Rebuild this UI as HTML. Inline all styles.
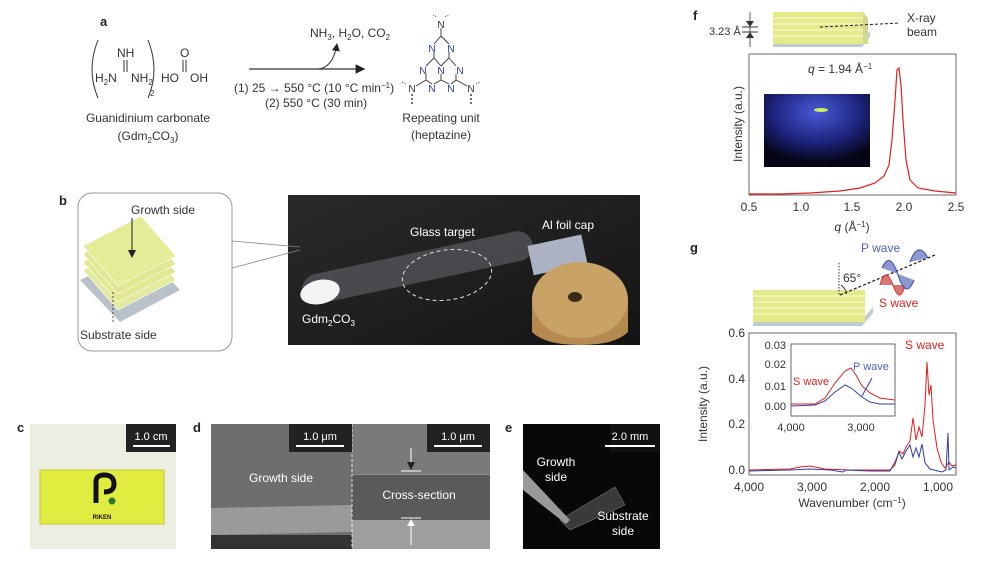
<!DOCTYPE html>
<html><head><meta charset="utf-8"><style>
body{margin:0;background:#fff;}
svg{display:block;font-family:"Liberation Sans",sans-serif;}
</style></head><body>
<svg width="990" height="570" viewBox="0 0 990 570" xmlns="http://www.w3.org/2000/svg">
<defs>
<marker id="ah" markerWidth="8" markerHeight="8" refX="7" refY="4" orient="auto"><path d="M0,0 L8,4 L0,8 z" fill="#222"/></marker>
<linearGradient id="bg" x1="0" y1="0" x2="1" y2="1"><stop offset="0" stop-color="#2a2a2a"/><stop offset="1" stop-color="#141414"/></linearGradient>
<radialGradient id="xr" cx="0.5" cy="0.25" r="0.7"><stop offset="0" stop-color="#4a5ad8"/><stop offset="0.6" stop-color="#1c237a"/><stop offset="1" stop-color="#050515"/></radialGradient>
</defs>

<!-- a -->
<text x="100" y="26" font-size="13" font-weight="bold" fill="#222">a</text>
<g font-size="12" fill="#333">
<path d="M98,40 Q86,70 98,98" fill="none" stroke="#333" stroke-width="1"/>
<path d="M148,40 Q160,70 148,98" fill="none" stroke="#333" stroke-width="1"/>
<text x="117" y="57">NH</text>
<line x1="124" y1="60" x2="124" y2="72" stroke="#333" stroke-width="1"/>
<line x1="127" y1="60" x2="127" y2="72" stroke="#333" stroke-width="1"/>
<text x="95" y="82">H<tspan font-size="8" dy="3">2</tspan><tspan dy="-3">N</tspan></text>
<text x="131" y="82">NH<tspan font-size="8" dy="3">2</tspan></text>
<text x="150" y="96" font-size="8">2</text>
<text x="161" y="82">HO</text>
<text x="190" y="82">OH</text>
<text x="180" y="57">O</text>
<line x1="183" y1="60" x2="183" y2="72" stroke="#333"/><line x1="186" y1="60" x2="186" y2="72" stroke="#333"/>
<text x="148" y="122" text-anchor="middle">Guanidinium carbonate</text>
<text x="148" y="140" text-anchor="middle">(Gdm<tspan font-size="8" dy="3">2</tspan><tspan dy="-3">CO</tspan><tspan font-size="8" dy="3">3</tspan><tspan dy="-3">)</tspan></text>
</g>
<line x1="249" y1="69" x2="364" y2="69" stroke="#333" stroke-width="1.2" marker-end="url(#ah)"/>
<path d="M318,69 Q333,68 337,44" fill="none" stroke="#333" stroke-width="1" marker-end="url(#ah)"/>
<g font-size="12" fill="#333">
<text x="310" y="37">NH<tspan font-size="8" dy="3">3</tspan><tspan dy="-3">, H</tspan><tspan font-size="8" dy="3">2</tspan><tspan dy="-3">O, CO</tspan><tspan font-size="8" dy="3">2</tspan></text>
<text x="234" y="92">(1) 25 → 550 °C (10 °C min<tspan font-size="8" dy="-4">−1</tspan><tspan dy="4">)</tspan></text>
<text x="265" y="107">(2) 550 °C (30 min)</text>
<text x="441" y="122" text-anchor="middle">Repeating unit</text>
<text x="441" y="139" text-anchor="middle">(heptazine)</text>
</g>
<g stroke="#333" stroke-width="0.9" fill="none">
<path d="M441,28 L441,36 L434,44 M441,36 L449,44 M434,52 L434,58 L426,66 M434,58 L441,66 M449,52 L449,58 L441,66 M449,58 L456,66 M426,74 L426,80 L432,84 M441,74 L441,80 L434,84 M441,80 L449,84 M456,74 L456,80 L451,84 M426,80 L416,86 M456,80 L467,86"/>
<path d="M412,94 L412,104 M471,94 L471,104" stroke-dasharray="2,2" stroke-width="1.4"/>
<path d="M433,15 L437,17 M445,17 L449,15 M402,82 L406,84 M476,84 L480,82" stroke-dasharray="1,1"/>
</g>
<g font-size="10" fill="#2a3a8a" text-anchor="middle">
<text x="441" y="28" fill="#333">N</text>
<text x="432" y="52">N</text><text x="451" y="52">N</text>
<text x="423" y="74">N</text><text x="441" y="74">N</text><text x="460" y="74">N</text>
<text x="432" y="92">N</text><text x="451" y="92">N</text>
<text x="412" y="92" fill="#333">N</text><text x="471" y="92" fill="#333">N</text>
</g>

<!-- b -->
<text x="59" y="205" font-size="13" font-weight="bold" fill="#222">b</text>
<rect x="288" y="195" width="352" height="150" fill="url(#bg)"/>
<rect x="78" y="193" width="154" height="158" rx="14" fill="#fff" stroke="#999" stroke-width="1"/>
<line x1="232" y1="241" x2="300" y2="247" stroke="#888" stroke-width="0.8"/>
<line x1="232" y1="268" x2="300" y2="250" stroke="#888" stroke-width="0.8"/>
<polygon points="80,280 142,250 180,290 120,322" fill="#b8c2c8"/>
<polygon points="83,270 141,240 176,280 118,310" fill="#e3eaa0" stroke="#fff" stroke-width="0.6"/>
<polygon points="83,262 141,232 176,272 118,302" fill="#e0e890" stroke="#fff" stroke-width="0.6"/>
<polygon points="83,254 141,224 176,264 118,294" fill="#dfe890" stroke="#fff" stroke-width="0.6"/>
<polygon points="83,246 141,216 176,256 118,286" fill="#e4ec98" stroke="#fff" stroke-width="0.6"/>
<line x1="132" y1="218" x2="132" y2="257" stroke="#222" stroke-width="1" marker-end="url(#ah)"/>
<line x1="113" y1="322" x2="113" y2="290" stroke="#222" stroke-width="0.8" stroke-dasharray="2,2"/>
<text x="131" y="214" font-size="12" fill="#333">Growth side</text>
<text x="80" y="339" font-size="12" fill="#333">Substrate side</text>
<rect x="300" y="252" width="235" height="30" rx="15" fill="#777c84" opacity="0.45" transform="rotate(-12 420 267)"/>
<ellipse cx="320" cy="292" rx="20" ry="12" fill="#f4f4f4" transform="rotate(-12 320 292)"/>
<ellipse cx="447" cy="275" rx="45" ry="25" fill="none" stroke="#ddd" stroke-dasharray="4,3" transform="rotate(-8 447 275)"/>
<rect x="530" y="240" width="55" height="30" fill="#aab2c4" transform="rotate(-12 557 255)"/>
<path d="M532,300 L532,332 Q545,345 580,345 Q615,345 628,332 L628,300 z" fill="#b48a50"/>
<ellipse cx="580" cy="300" rx="48" ry="38" fill="#c9a266"/>
<ellipse cx="575" cy="297" rx="7" ry="5" fill="#3a2a18"/>
<g font-size="12" fill="#fff">
<text x="410" y="236">Glass target</text>
<text x="542" y="229">Al foil cap</text>
<text x="302" y="323">Gdm<tspan font-size="8" dy="3">2</tspan><tspan dy="-3">CO</tspan><tspan font-size="8" dy="3">3</tspan></text>
</g>

<!-- c -->
<text x="17" y="432" font-size="13" font-weight="bold" fill="#222">c</text>
<rect x="30" y="424" width="146" height="125" fill="#eceee2"/>
<rect x="40" y="470" width="124" height="54" fill="#e0ec40" stroke="#c8c830"/>
<path d="M96,503 L96,482 Q96,475 104,475 Q114,475 114,484 Q114,492 104,492" fill="none" stroke="#111" stroke-width="5"/>
<circle cx="112" cy="501" r="3.5" fill="#2a7a30"/>
<text x="102" y="519" font-size="6" font-weight="bold" text-anchor="middle" fill="#111">RIKEN</text>
<rect x="126" y="424" width="50" height="28" fill="#222"/>
<text x="151" y="440" font-size="11" fill="#fff" text-anchor="middle">1.0 cm</text>
<line x1="133" y1="446" x2="170" y2="446" stroke="#fff" stroke-width="2"/>

<!-- d -->
<text x="193" y="432" font-size="13" font-weight="bold" fill="#222">d</text>
<rect x="211" y="424" width="141" height="125" fill="#6e6e6e"/>
<path d="M211,508 L352,505 L352,532 L211,535 z" fill="#9a9a9a"/>
<rect x="211" y="535" width="141" height="14" fill="#333"/>
<rect x="352" y="424" width="138" height="125" fill="#8c8c8c"/>
<rect x="352" y="424" width="138" height="50" fill="#7a7a7a"/>
<rect x="352" y="475" width="138" height="45" fill="#5a5a5a"/>
<rect x="352" y="520" width="138" height="29" fill="#9e9e9e"/>
<line x1="352" y1="424" x2="352" y2="549" stroke="#fff" stroke-dasharray="3,2" stroke-width="0.8"/>
<rect x="289" y="424" width="63" height="28" fill="#222"/><rect x="427" y="424" width="63" height="28" fill="#222"/>
<text x="320" y="440" font-size="11" fill="#fff" text-anchor="middle">1.0 μm</text>
<text x="458" y="440" font-size="11" fill="#fff" text-anchor="middle">1.0 μm</text>
<line x1="296" y1="446" x2="344" y2="446" stroke="#fff" stroke-width="2"/>
<line x1="434" y1="446" x2="482" y2="446" stroke="#fff" stroke-width="2"/>
<text x="281" y="482" font-size="12" fill="#fff" text-anchor="middle">Growth side</text>
<text x="419" y="499" font-size="12" fill="#fff" text-anchor="middle">Cross-section</text>
<line x1="411" y1="448" x2="411" y2="469" stroke="#fff" marker-end="url(#ah)"/>
<line x1="401" y1="471" x2="421" y2="471" stroke="#fff"/>
<line x1="411" y1="545" x2="411" y2="520" stroke="#fff"/>
<line x1="401" y1="518" x2="421" y2="518" stroke="#fff"/>
<path d="M407,526 L411,519 L415,526z" fill="#fff"/>

<!-- e -->
<text x="505" y="432" font-size="13" font-weight="bold" fill="#222">e</text>
<rect x="523" y="424" width="137" height="125" fill="#080808"/>
<polygon points="560,520 615,487 625,505 570,530" fill="#3a3a3a" stroke="#777" stroke-width="0.6"/>
<polygon points="523,470 570,520 566,524 523,490" fill="#999"/>
<rect x="610" y="424" width="50" height="28" fill="#111"/>
<text x="630" y="440" font-size="11" fill="#fff" text-anchor="middle">2.0 mm</text>
<line x1="605" y1="446" x2="655" y2="446" stroke="#fff" stroke-width="2"/>
<text x="556" y="466" font-size="12" fill="#fff" text-anchor="middle">Growth</text>
<text x="556" y="481" font-size="12" fill="#fff" text-anchor="middle">side</text>
<text x="623" y="520" font-size="12" fill="#fff" text-anchor="middle">Substrate</text>
<text x="623" y="535" font-size="12" fill="#fff" text-anchor="middle">side</text>

<!-- f -->
<text x="693" y="20" font-size="13" font-weight="bold" fill="#222">f</text>
<polygon points="773,41 860,41 870,31 870,37 862,47 773,47" fill="#c0cbd0"/>
<rect x="773" y="12" width="90" height="32" fill="#e4ea88"/>
<g stroke="#fff" stroke-width="0.7"><line x1="773" y1="18" x2="863" y2="18"/><line x1="773" y1="24" x2="863" y2="24"/><line x1="773" y1="30" x2="863" y2="30"/><line x1="773" y1="36" x2="863" y2="36"/></g>
<polygon points="863,12 868,18 868,44 863,44" fill="#d0d890"/>
<line x1="820" y1="27" x2="900" y2="23" stroke="#222" stroke-dasharray="3,2"/>
<text x="907" y="22" font-size="12" fill="#333">X-ray</text>
<text x="907" y="36" font-size="12" fill="#333">beam</text>
<text x="709" y="35" font-size="11" fill="#333">3.23 Å</text>
<line x1="750" y1="12" x2="750" y2="47" stroke="#333" stroke-width="0.8"/>
<line x1="742" y1="27" x2="758" y2="27" stroke="#333"/><line x1="742" y1="32" x2="758" y2="32" stroke="#333"/>
<path d="M746,21 L750,27 L754,21z M746,38 L750,32 L754,38z" fill="#333"/>
<rect x="749" y="54" width="207" height="141" fill="none" stroke="#444" stroke-width="0.8"/>
<rect x="764" y="94" width="106" height="73" fill="url(#xr)"/>
<ellipse cx="821" cy="110" rx="7" ry="2" fill="#c8f060"/>
<polyline fill="none" stroke="#e02020" stroke-width="1.2" points="749,194 780,194 810,193 840,191 860,188 875,183 884,176 889,165 892,140 895,100 897,70 899,68 901,85 903,120 906,160 910,180 918,188 935,191 956,193"/>
<text x="808" y="73" font-size="12" fill="#333"><tspan font-style="italic">q</tspan> = 1.94 Å<tspan font-size="8" dy="-4">−1</tspan></text>
<g font-size="12" fill="#333" text-anchor="middle">
<text x="749" y="211">0.5</text><text x="801" y="211">1.0</text><text x="852" y="211">1.5</text><text x="904" y="211">2.0</text><text x="956" y="211">2.5</text>
<text x="852" y="231"><tspan font-style="italic">q</tspan> (Å<tspan font-size="8" dy="-4">−1</tspan><tspan dy="4">)</tspan></text>
<text transform="translate(742,124) rotate(-90)">Intensity (a.u.)</text>
</g>

<!-- g -->
<text x="690" y="252" font-size="13" font-weight="bold" fill="#222">g</text>
<polygon points="753,320 862,320 873,307 873,313 862,326 753,326" fill="#c0cbd0"/>
<rect x="753" y="290" width="112" height="32" fill="#e4ea88"/>
<g stroke="#fff" stroke-width="0.7"><line x1="753" y1="296" x2="865" y2="296"/><line x1="753" y1="302" x2="865" y2="302"/><line x1="753" y1="308" x2="865" y2="308"/><line x1="753" y1="314" x2="865" y2="314"/></g>
<line x1="839" y1="263" x2="839" y2="296" stroke="#333" stroke-dasharray="1.5,1.5"/>
<line x1="840" y1="295" x2="935" y2="255" stroke="#222" stroke-dasharray="3,2" stroke-width="1.3"/>
<path d="M841,285 Q847,290 846,294" fill="none" stroke="#333"/>
<text x="843" y="282" font-size="12" fill="#333">65°</text>
<path d="M880,285 Q885,265 893,285 Q900,305 905,285" fill="#d06060" stroke="#e02020" stroke-width="1.2" opacity="0.85"/>
<path d="M882,268 Q890,250 898,275 Q906,300 914,280 M910,262 Q918,240 928,258" fill="#7a86c8" stroke="#3040a0" stroke-width="1.2" opacity="0.85"/>
<text x="861" y="252" font-size="12" fill="#5060c0">P wave</text>
<text x="879" y="307" font-size="12" fill="#e02020">S wave</text>
<rect x="749" y="333" width="207" height="142" fill="none" stroke="#444" stroke-width="0.8"/>
<g font-size="12" fill="#333" text-anchor="end">
<text x="745" y="337">0.6</text><text x="745" y="383">0.4</text><text x="745" y="428">0.2</text><text x="745" y="474">0.0</text>
</g>
<g font-size="12" fill="#333" text-anchor="middle">
<text x="749" y="491">4,000</text><text x="812" y="491">3,000</text><text x="875" y="491">2,000</text><text x="938" y="491">1,000</text>
<text x="852" y="507">Wavenumber (cm<tspan font-size="8" dy="-4">−1</tspan><tspan dy="4">)</tspan></text>
<text transform="translate(707,404) rotate(-90)">Intensity (a.u.)</text>
</g>
<polyline fill="none" stroke="#e02020" stroke-width="1" points="749,470 790,469 800,467 810,466 825,469 850,470 890,470 895,465 899,451 903,454 906,447 910,441 913,418 916,440 919,427 922,437 925,405 927,362 929,395 931,385 933,420 937,448 941,462 945,468 949,462 952,466 956,465"/>
<polyline fill="none" stroke="#3040a0" stroke-width="1" points="749,471 790,470 810,469 830,470 843,472 846,470 870,471 890,471 895,462 899,452 902,459 906,451 910,445 913,457 916,448 919,457 922,444 925,463 930,469 942,472 946,470 948,433 949,470 953,467 956,468"/>
<text x="905" y="349" font-size="12" fill="#e02020">S wave</text>
<rect x="791" y="344" width="104" height="72" fill="#fff" stroke="#444" stroke-width="0.8"/>
<g font-size="11" fill="#333" text-anchor="end">
<text x="786" y="349">0.03</text><text x="786" y="368">0.02</text><text x="786" y="390">0.01</text><text x="786" y="410">0.00</text>
</g>
<g font-size="11" fill="#333" text-anchor="middle"><text x="791" y="431">4,000</text><text x="861" y="431">3,000</text></g>
<polyline fill="none" stroke="#e02020" stroke-width="1" points="791,404 815,404 825,398 835,383 845,371 851,368 856,375 862,386 870,393 880,398 895,400"/>
<polyline fill="none" stroke="#3040a0" stroke-width="1" points="791,406 815,405 825,401 835,392 845,385 851,388 856,392 862,397 870,402 880,404 895,404"/>
<line x1="872" y1="378" x2="862" y2="396" stroke="#3040a0"/>
<text x="793" y="385" font-size="11" fill="#e02020">S wave</text>
<text x="853" y="370" font-size="11" fill="#5060c0">P wave</text>
</svg>
</body></html>
